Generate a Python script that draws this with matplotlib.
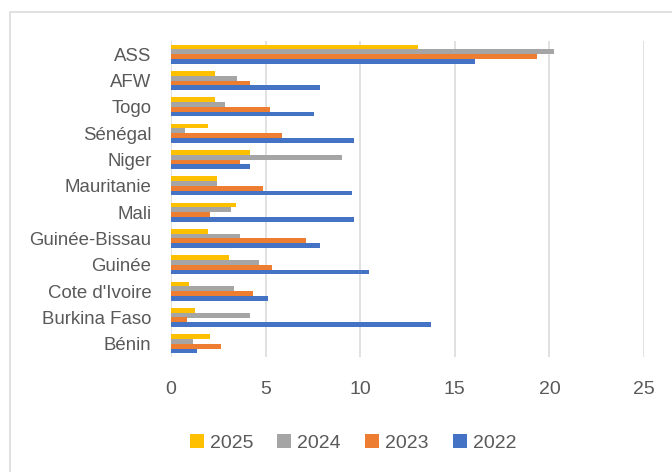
import matplotlib.pyplot as plt
import numpy as np
from matplotlib.patches import Rectangle

# catégories, du haut vers le bas
categories = ["ASS", "AFW", "Togo", "Sénégal", "Niger", "Mauritanie", "Mali",
              "Guinée-Bissau", "Guinée", "Cote d'Ivoire", "Burkina Faso", "Bénin"]

v2025 = [13.05, 2.35, 2.35, 1.95, 4.15, 2.45, 3.45, 1.95, 3.05, 0.95, 1.25, 2.05]
v2024 = [20.25, 3.5, 2.85, 0.75, 9.05, 2.45, 3.15, 3.65, 4.65, 3.35, 4.15, 1.15]
v2023 = [19.35, 4.2, 5.25, 5.85, 3.65, 4.85, 2.05, 7.15, 5.35, 4.35, 0.85, 2.65]
v2022 = [16.05, 7.9, 7.55, 9.65, 4.15, 9.55, 9.65, 7.85, 10.45, 5.15, 13.75, 1.35]

years = ["2025", "2024", "2023", "2022"]
colors = ["#FFC000", "#A5A5A5", "#ED7D31", "#4472C4"]
series = [v2025, v2024, v2023, v2022]

txt = "#595959"
plt.rcParams["font.family"] = ["Liberation Sans", "DejaVu Sans"]

fig = plt.figure(figsize=(6.72, 4.72), dpi=100)
ax = fig.add_axes([171 / 672, 1 - 357 / 472, (644 - 171) / 672, (357 - 41) / 472])

n = len(categories)
y = np.arange(n)[::-1]  # ASS en haut
h = 0.178
offsets = [1.5, 0.5, -0.5, -1.5]
for vals, col, lab, off in zip(series, colors, years, offsets):
    ax.barh(y + off * h, vals, height=h, color=col, label=lab, zorder=3)

ax.set_xlim(0, 25)
ax.set_ylim(-0.5, n - 0.5)
ax.set_xticks(range(0, 26, 5))
ax.set_yticks(y)
ax.set_yticklabels(categories)
ax.grid(axis="x", color="#D9D9D9", linewidth=1.1, zorder=0)
for s in ax.spines.values():
    s.set_visible(False)
ax.tick_params(axis="x", length=0, pad=17, labelsize=14, labelcolor=txt)
ax.tick_params(axis="y", length=0, pad=14, labelsize=13.4, labelcolor=txt)

handles, labels = ax.get_legend_handles_labels()
fig.legend(handles, labels, loc="center", bbox_to_anchor=(353 / 672, 1 - 443 / 472),
           ncol=4, frameon=False, fontsize=14, labelcolor=txt,
           handlelength=0.72, handleheight=0.72, handletextpad=0.3, columnspacing=1.25)

# cadre de la zone de graphique
fig.add_artist(Rectangle((9.5 / 672, 1 - 500 / 472), 700 / 672, (500 - 11.5) / 472,
                         transform=fig.transFigure, fill=False, edgecolor="#D9D9D9",
                         linewidth=1.1, clip_on=False))

fig.savefig("out.png", dpi=100)
